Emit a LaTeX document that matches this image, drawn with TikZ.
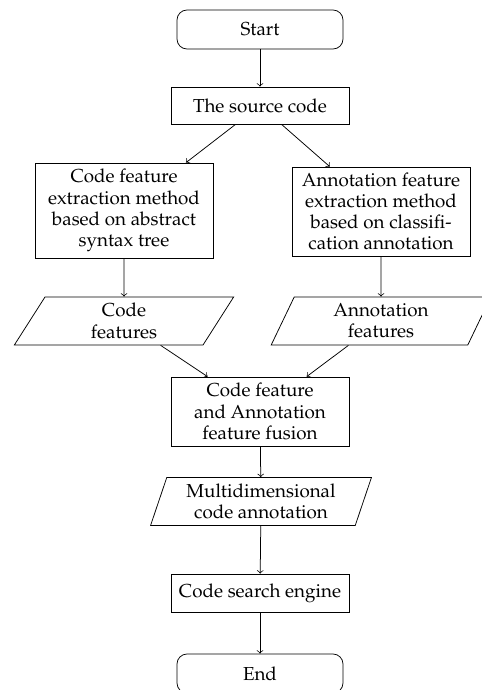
\documentclass[tikz,border=0pt]{standalone}
\usepackage[T1]{fontenc}
\usepackage{mathpazo}
\usetikzlibrary{shapes.geometric}
\newdimen\pu
\pu=0.532pt
\tikzset{
  base/.style={draw, thin, align=center, inner sep=0pt,
    font=\fontsize{10pt}{11.3pt}\selectfont},
  startstop/.style={base, rectangle, rounded corners=10\pu,
    minimum width=166\pu, minimum height=39\pu},
  process/.style={base, rectangle, minimum width=178\pu},
  io/.style={base, trapezium, trapezium left angle=70, trapezium right angle=110,
    trapezium stretches=true, minimum width=220\pu, minimum height=48\pu},
  arr/.style={->, thin}
}
\begin{document}
\begin{tikzpicture}[x=\pu, y=-\pu]
\useasboundingbox (0,0) rectangle (482,690);
\node[startstop] (start) at (260,29.5) {Start};
\node[process, minimum height=37\pu] (src) at (260,105.5) {The source code};
\node[process, minimum height=95\pu] (cfe) at (124,210.5) {Code feature\\extraction method\\based on abstract\\syntax tree};
\node[process, minimum height=89\pu] (afe) at (381,211.5) {Annotation feature\\extraction method\\based on classifi-\\cation annotation};
\node[io] (cf) at (124,321) {Code\\features};
\node[io] (af) at (381,321) {Annotation\\features};
\node[process, minimum height=69\pu] (fus) at (260,411.5) {Code feature\\and Annotation\\feature fusion};
\node[io, minimum width=222\pu] (md) at (261,501.5) {Multidimensional\\code annotation};
\node[process, minimum height=38\pu] (cse) at (260,593) {Code search engine};
\node[startstop] (end) at (260,673.5) {End};
\draw[arr] (start) -- (src);
\draw[arr] (src) -- (cfe);
\draw[arr] (src) -- (afe);
\draw[arr] (cfe) -- (cf);
\draw[arr] (afe) -- (af);
\draw[arr] (cf) -- (fus);
\draw[arr] (af) -- (fus);
\draw[arr] (fus) -- (md);
\draw[arr] (md) -- (cse);
\draw[arr] (cse) -- (end);
\end{tikzpicture}
\end{document}
